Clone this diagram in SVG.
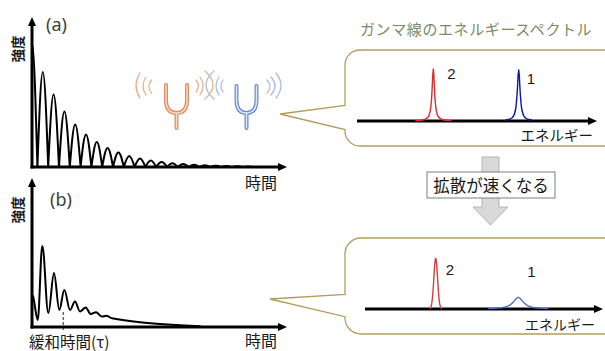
<svg xmlns="http://www.w3.org/2000/svg" width="605" height="351" viewBox="0 0 605 351">
  <style>
    .axis { stroke: #000; stroke-width: 3; fill: none; marker-end: url(#arrow); }
    .curve { stroke: #000; stroke-width: 2; fill: none; stroke-linejoin: round; stroke-linecap: round; }
    .jp { font-family: "Noto Sans CJK JP", "Noto Sans", sans-serif; fill: #1a1a1a; }
    .num { font-family: "Liberation Sans", Arial, sans-serif; font-size: 15px; fill: #1a1a1a; text-anchor: middle; dominant-baseline: central; }
    .label { font-family: "Noto Sans", "Noto Sans CJK JP", sans-serif; font-size: 18px; fill: #404040; }
    .callout { fill: #fff; stroke: #b29d5f; stroke-width: 1.3; stroke-linejoin: miter; }
    .peak { fill: none; stroke-width: 1.4; stroke-linejoin: round; }
    .wave-o { fill: none; stroke: #ebb08c; stroke-width: 1.3; stroke-linecap: round; }
    .wave-b { fill: none; stroke: #a9bde3; stroke-width: 1.3; stroke-linecap: round; }
  </style>
  <defs>
    <marker id="arrow" viewBox="0 0 9 8" markerWidth="9" markerHeight="8" refX="3" refY="4" orient="auto" markerUnits="userSpaceOnUse">
      <path d="M0,0 L9,4 L0,8 Z" fill="#000"/>
    </marker>
  </defs>

  <!-- (a) slow decay: beating intensity -->
  <g id="graph-a">
    <path class="curve" d="M32,43 c1.955,0 3.64,60.5 5.4,124
      c1.76,-48.6 3.445,-94.9 5.4,-94.9 c1.955,0 3.64,46.3 5.4,94.9
      c1.76,-37.2 3.445,-72.6 5.4,-72.6 c1.955,0 3.64,35.4 5.4,72.6
      c1.76,-28.4 3.445,-55.5 5.4,-55.5 c1.955,0 3.64,27.1 5.4,55.5
      c1.76,-21.8 3.445,-42.5 5.4,-42.5 c1.955,0 3.64,20.7 5.4,42.5
      c1.76,-16.6 3.445,-32.5 5.4,-32.5 c1.955,0 3.64,15.9 5.4,32.5
      c1.76,-12.7 3.445,-24.9 5.4,-24.9 c1.955,0 3.64,12.2 5.4,24.9
      c1.76,-9.7 3.445,-19 5.4,-19 c1.955,0 3.64,9.3 5.4,19
      c1.76,-7.5 3.445,-14.6 5.4,-14.6 c1.955,0 3.64,7.1 5.4,14.6
      c1.76,-5.7 3.445,-11.1 5.4,-11.1 c1.955,0 3.64,5.4 5.4,11.1
      c1.76,-4.4 3.445,-8.5 5.4,-8.5 c1.955,0 3.64,4.1 5.4,8.5
      c1.76,-3.3 3.445,-6.5 5.4,-6.5 c1.955,0 3.64,3.2 5.4,6.5
      c1.76,-2.6 3.445,-5 5.4,-5 c1.955,0 3.64,2.4 5.4,5
      c1.76,-1.9 3.445,-3.8 5.4,-3.8 c1.955,0 3.64,1.9 5.4,3.8
      c1.76,-1.5 3.445,-2.9 5.4,-2.9 c1.955,0 3.64,1.4 5.4,2.9
      c1.76,-1.1 3.445,-2.2 5.4,-2.2 c1.955,0 3.64,1.1 5.4,2.2
      c1.76,-0.9 3.445,-1.7 5.4,-1.7 c1.955,0 3.64,0.8 5.4,1.7
      c1.76,-0.7 3.445,-1.3 5.4,-1.3 c1.955,0 3.64,0.6 5.4,1.3
      c1.76,-0.5 3.445,-1 5.4,-1 c1.955,0 3.64,0.5 5.4,1
      c1.76,-0.4 3.445,-0.8 5.4,-0.8 c1.955,0 3.64,0.4 5.4,0.8
      c1.76,-0.3 3.445,-0.6 5.4,-0.6 c1.955,0 3.64,0.3 5.4,0.6"/>
    <line class="axis" x1="32" y1="168.5" x2="32" y2="23"/>
    <line class="axis" x1="30.5" y1="167" x2="281" y2="167"/>
    <text class="label" x="46" y="31">(a)</text>
    <text class="jp" font-size="13.5" font-weight="bold" text-anchor="middle" dominant-baseline="central" transform="translate(17,49) rotate(-90)">強度</text>
    <text class="jp" font-size="16" text-anchor="middle" dominant-baseline="central" x="261" y="182">時間</text>
  </g>

  <!-- (b) fast decay with relaxation time -->
  <g id="graph-b">
    <path class="curve" d="M33,296 C34.5,300 36.2,320 37.7,320
      C39.4,320 40.6,246 42.3,246
      C44.5,246 46.1,313 48.3,313
      C50.4,313 52,273 54,273
      C55.9,273 57.4,310 59.3,310
      C61.1,310 62.5,290 64.3,290
      C66.4,290 68,310 70,310
      C71.8,310 73.2,301.5 75,301.5
      C76.8,301.5 78.2,311.5 80,311.5
      C82,311.5 83.6,307.5 85.7,307.5
      C87.5,307.5 88.9,314 90.7,314
      C92.6,314 94.1,312.3 96,312.3
      C98.1,312.3 99.6,316.5 101.7,316.5
      C103.4,316.5 104.8,315.8 106.5,315.8
      C108.5,315.8 110,318.3 112,318.3
      C118,319.5 128,321 140,322.3
      C152,323.8 170,325 200,326.2"/>
    <line x1="63.3" y1="312" x2="63.3" y2="331" stroke="#2e75b6" stroke-width="1.5" stroke-dasharray="3,2"/>
    <line class="axis" x1="32" y1="328.5" x2="32" y2="184"/>
    <line class="axis" x1="30.5" y1="327" x2="281" y2="327"/>
    <text class="label" x="50" y="206">(b)</text>
    <text class="jp" font-size="13.5" font-weight="bold" text-anchor="middle" dominant-baseline="central" transform="translate(17,210) rotate(-90)">強度</text>
    <text class="jp" font-size="16" text-anchor="middle" x="261" y="347">時間</text>
    <text class="jp" font-size="15.5" x="29" y="348">緩和時間(τ)</text>
  </g>

  <!-- two tuning forks with sound waves -->
  <g id="fork-orange">
    <path d="M140,73 Q132,85.5 140,98 M146,77 Q140,86 146,95 M151.5,80 Q146.5,86.5 151.5,93" class="wave-o"/>
    <path d="M196,80 Q201,86 196,92 M200,77 Q206,86 200,95 M205,71 Q221,85 205,99" class="wave-o"/>
    <path d="M166,85 V100 Q166,113 176.5,113 Q187,113 187,100 V85 M176.5,113 V128" fill="none" stroke="#de8c5c" stroke-width="4" stroke-linecap="round"/>
    <path d="M166,85 V100 Q166,113 176.5,113 Q187,113 187,100 V85 M176.5,113 V128" fill="none" stroke="#f8dccb" stroke-width="1.5" stroke-linecap="round"/>
  </g>
  <g id="fork-blue">
    <path d="M214,71 Q198,85 214,99 M219,77 Q213,86 219,95 M223,80 Q219,86 223,92" class="wave-b"/>
    <path d="M267,80 Q273,86.5 267,93 M271,77 Q279,86 271,95 M276,73 Q286,85.5 276,98" class="wave-b"/>
    <path d="M236.5,86 V100 Q236.5,113 246.5,113 Q256.5,113 256.5,100 V86 M246.5,113 V128" fill="none" stroke="#6a8ccf" stroke-width="4" stroke-linecap="round"/>
    <path d="M236.5,86 V100 Q236.5,113 246.5,113 Q256.5,113 256.5,100 V86 M246.5,113 V128" fill="none" stroke="#dde6f6" stroke-width="1.5" stroke-linecap="round"/>
  </g>

  <!-- spectrum title -->
  <text id="title" class="jp" font-size="15" letter-spacing="0.6" style="fill:#7d8a66" x="360" y="35">ガンマ線のエネルギースペクトル</text>

  <!-- upper spectrum: two sharp lines -->
  <g id="spectrum-top">
    <path class="callout" d="M360,50 H620 V146 H360 A15,15 0 0 1 345,131 V129.5 L280,114 L345,105.5 V65 A15,15 0 0 1 360,50 Z"/>
    <line class="axis" x1="357" y1="121" x2="591" y2="121"/>
    <polyline class="peak" stroke="#e02a2e" points="415.3,120.6 421.3,120.2 425.3,119.2 427.3,117.9 428.3,116.7 429.3,114.6 430.3,110.6 430.8,107.2 431.3,102.3 431.8,95 432.3,85.1 432.8,74.2 433.3,69 433.8,74.2 434.3,85.1 434.8,95 435.3,102.3 435.8,107.2 436.3,110.6 437.3,114.6 438.3,116.7 439.3,117.9 441.3,119.2 445.3,120.2 451.3,120.6"/>
    <polyline class="peak" stroke="#0a14b4" stroke-width="2" points="505.1,120.2 509.6,119.3 511.9,118 513,116.8 514.2,114.7 515.3,110.8 515.9,107.5 516.4,102.6 517,95.5 517.6,85.8 518.1,75.1 518.7,70 519.3,75.1 519.8,85.8 520.4,95.5 521,102.6 521.5,107.5 522.1,110.8 523.2,114.7 524.4,116.8 525.5,118 527.8,119.3 532.3,120.2"/>
    <text class="num" x="451.5" y="73.5">2</text>
    <text class="num" x="531" y="78">1</text>
    <text class="jp" font-size="14.5" text-anchor="end" dominant-baseline="central" x="593" y="134">エネルギー</text>
  </g>

  <!-- block arrow with caption -->
  <g id="diffusion">
    <path d="M482,157 H499 V207 H508 L490.5,225 L473,207 H482 Z" fill="#d9d9d9" stroke="#b3b3b3" stroke-width="1"/>
    <rect x="427" y="172" width="128" height="26" fill="#fff" stroke="#7f7f7f" stroke-width="1"/>
    <text class="jp" font-size="16.5" text-anchor="middle" dominant-baseline="central" x="491" y="185">拡散が速くなる</text>
  </g>

  <!-- lower spectrum: line 1 broadened -->
  <g id="spectrum-bottom">
    <path class="callout" d="M361,238 H620 V334 H361 A16,16 0 0 1 345,318 V316.7 L270,299 L345,294.3 V254 A16,16 0 0 1 361,238 Z"/>
    <line class="axis" x1="365" y1="309" x2="597" y2="309"/>
    <polyline class="peak" stroke="#e03a3a" points="429.7,308.7 430.7,307.6 431.7,303.9 432.2,300.2 432.7,295 433.2,288.3 433.7,280.4 434.2,272.3 434.7,265.1 435.2,260.1 435.7,258.3 436.2,260.1 436.7,265.1 437.2,272.3 437.7,280.4 438.2,288.3 438.7,295 439.2,300.2 439.7,303.9 440.7,307.6 441.7,308.7"/>
    <polyline class="peak" stroke="#4472c4" points="488.3,308.6 493.3,308.4 498.3,308 502.3,307.6 505.3,306.9 508.3,305.9 510.3,304.8 512.3,303.15 514.3,300.9 516.3,298.5 518.3,297.3 520.3,298.5 522.3,300.9 524.3,303.15 526.3,304.8 528.3,305.9 531.3,306.9 534.3,307.6 538.3,308 543.3,308.4 548.3,308.6"/>
    <text class="num" x="450" y="269">2</text>
    <text class="num" x="531.5" y="271">1</text>
    <text class="jp" font-size="14" text-anchor="end" dominant-baseline="central" x="595" y="324">エネルギー</text>
  </g>
</svg>
